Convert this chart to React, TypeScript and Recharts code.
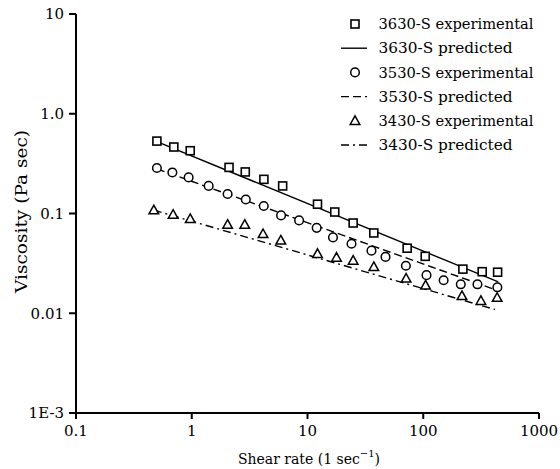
import React from "react";
import { ScatterChart, Scatter, XAxis, YAxis, Legend } from "recharts";

const FONT = "'DejaVu Serif', serif";

const xTicks = [0.1, 1, 10, 100, 1000];
const xTickLabels = ["0.1", "1", "10", "100", "1000"];
const yTicks = [0.001, 0.01, 0.1, 1, 10];
const yTickLabels = ["1E-3", "0.01", "0.1", "1.0", "10"];

// 3630-S
const rate3630 = [0.5, 0.7, 0.97, 2.1, 2.9, 4.2, 6.1, 12.2, 17.2, 24.8, 37.4, 72.6, 104, 220, 323, 439];
const visc3630 = [0.532, 0.464, 0.426, 0.29, 0.261, 0.22, 0.189, 0.124, 0.1035, 0.0803, 0.0638, 0.0449, 0.0372, 0.0277, 0.0261, 0.0258];
// 3530-S
const rate3530 = [0.5, 0.68, 0.94, 1.4, 2.04, 2.93, 4.19, 5.91, 8.46, 12.0, 16.6, 24.0, 35.7, 47.2, 70.8, 106.7, 150, 211, 294, 437];
const visc3530 = [0.286, 0.258, 0.23, 0.189, 0.157, 0.138, 0.119, 0.0957, 0.0853, 0.0718, 0.0576, 0.0498, 0.0424, 0.0367, 0.0299, 0.0241, 0.0214, 0.0195, 0.0195, 0.0182];
// 3430-S
const rate3430 = [0.47, 0.69, 0.97, 2.04, 2.87, 4.13, 5.88, 12.2, 17.8, 24.8, 37.4, 71.1, 104.7, 216, 315, 435];
const visc3430 = [0.108, 0.0973, 0.0881, 0.0772, 0.0772, 0.0623, 0.0537, 0.0394, 0.0361, 0.0337, 0.0291, 0.0223, 0.019, 0.0149, 0.0133, 0.0143];

// predicted (power law, straight on log-log) - end points only
const predRate3630 = [0.5, 445];
const predVisc3630 = [0.525, 0.0206];
const predRate3530 = [0.5, 445];
const predVisc3530 = [0.28, 0.0168];
const predRate3430 = [0.47, 416];
const predVisc3430 = [0.108, 0.0109];

const legendNames = [
  "3630-S experimental",
  "3630-S predicted",
  "3530-S experimental",
  "3530-S predicted",
  "3430-S experimental",
  "3430-S predicted",
];
const legendWidths = [155, 134, 155, 134, 155, 134];

const pts = (xs: number[], ys: number[]) => xs.map((x, i) => ({ x, y: ys[i] }));

const txt = { fontFamily: FONT };

const Square = ({ cx, cy }: any) => (
  <rect x={cx - 4} y={cy - 4} width={8} height={8} fill="#fff" stroke="#000" strokeWidth={1.6} />
);
const Ring = ({ cx, cy }: any) => (
  <circle cx={cx} cy={cy} r={4.3} fill="#fff" stroke="#000" strokeWidth={1.5} />
);
const Tri = ({ cx, cy }: any) => (
  <polygon
    points={`${cx},${cy - 5} ${cx + 4.8},${cy + 3.6} ${cx - 4.8},${cy + 3.6}`}
    fill="#fff"
    stroke="#000"
    strokeWidth={1.5}
  />
);
const NoShape = () => <g />;

const XTick = ({ x, y, payload }: any) => {
  const i = xTicks.indexOf(payload.value);
  return (
    <text x={x} y={y} dy="0.71em" textAnchor="middle" style={txt} fontSize={15} fill="#000">
      {xTickLabels[i]}
    </text>
  );
};

const YTick = ({ x, y, payload }: any) => {
  const i = yTicks.indexOf(payload.value);
  return (
    <text x={x} y={y} dy="0.355em" textAnchor="end" style={txt} fontSize={15} fill="#000">
      {yTickLabels[i]}
    </text>
  );
};

const XLabel = () => (
  <text x={309} y={464} textAnchor="middle" style={txt} fontSize={14} fill="#000">
    Shear rate (1 sec
    <tspan dy={-7} fontSize={10}>−1</tspan>
    <tspan dy={7} fontSize={14}>)</tspan>
  </text>
);

const YLabel = () => (
  <text
    x={27}
    y={211.5}
    transform="rotate(-90 27 211.5)"
    textAnchor="middle"
    style={txt}
    fontSize={17}
    textLength={163}
    lengthAdjust="spacingAndGlyphs"
    fill="#000"
  >
    Viscosity (Pa sec)
  </text>
);

const LegendBox = () => (
  <svg width={210} height={150} style={{ display: "block" }}>
    {legendNames.map((name, i) => {
      const cy = 12 + i * 24.2;
      let sample;
      if (i === 0) sample = <Square cx={17} cy={cy} />;
      else if (i === 2) sample = <Ring cx={17} cy={cy} />;
      else if (i === 4) sample = <Tri cx={17} cy={cy} />;
      else {
        const dash = i === 1 ? undefined : i === 3 ? "8 4" : "8 4 2 4";
        sample = <line x1={3} x2={29} y1={cy} y2={cy} stroke="#000" strokeWidth={1.4} strokeDasharray={dash} />;
      }
      return (
        <g key={name}>
          {sample}
          <text
            x={40.5}
            y={cy}
            dy="0.36em"
            style={txt}
            fontSize={14.5}
            textLength={legendWidths[i]}
            lengthAdjust="spacingAndGlyphs"
            fill="#000"
          >
            {name}
          </text>
        </g>
      );
    })}
  </svg>
);

export default function App() {
  return (
    <div style={{ position: "absolute", left: 0, top: 0, background: "#fff" }}>
      <ScatterChart width={560} height={469} margin={{ top: 14, right: 21, bottom: 0, left: 0 }}>
        <XAxis
          type="number"
          dataKey="x"
          scale="log"
          domain={[0.1, 1000]}
          ticks={xTicks}
          allowDataOverflow
          height={56}
          axisLine={{ stroke: "#000", strokeWidth: 2 }}
          tickLine={{ stroke: "#000", strokeWidth: 2 }}
          tickSize={6}
          tickMargin={6.5}
          tick={<XTick />}
          label={<XLabel />}
        />
        <YAxis
          type="number"
          dataKey="y"
          scale="log"
          domain={[0.001, 10]}
          ticks={yTicks}
          allowDataOverflow
          width={76}
          axisLine={{ stroke: "#000", strokeWidth: 2 }}
          tickLine={{ stroke: "#000", strokeWidth: 2 }}
          tickSize={7}
          tickMargin={5}
          tick={<YTick />}
          label={<YLabel />}
        />
        <Legend
          layout="vertical"
          align="center"
          verticalAlign="middle"
          wrapperStyle={{ position: "absolute", left: 338, top: 12, width: 210, height: 150 }}
          content={() => <LegendBox />}
        />
        <Scatter
          data={pts(predRate3630, predVisc3630)}
          line={{ stroke: "#000", strokeWidth: 1.4 }}
          shape={<NoShape />}
          legendType="none"
          isAnimationActive={false}
        />
        <Scatter
          data={pts(predRate3530, predVisc3530)}
          line={{ stroke: "#000", strokeWidth: 1.4, strokeDasharray: "8 4" }}
          shape={<NoShape />}
          legendType="none"
          isAnimationActive={false}
        />
        <Scatter
          data={pts(predRate3430, predVisc3430)}
          line={{ stroke: "#000", strokeWidth: 1.4, strokeDasharray: "8 4 2 4" }}
          shape={<NoShape />}
          legendType="none"
          isAnimationActive={false}
        />
        <Scatter data={pts(rate3630, visc3630)} shape={<Square />} isAnimationActive={false} />
        <Scatter data={pts(rate3530, visc3530)} shape={<Ring />} isAnimationActive={false} />
        <Scatter data={pts(rate3430, visc3430)} shape={<Tri />} isAnimationActive={false} />
      </ScatterChart>
    </div>
  );
}
